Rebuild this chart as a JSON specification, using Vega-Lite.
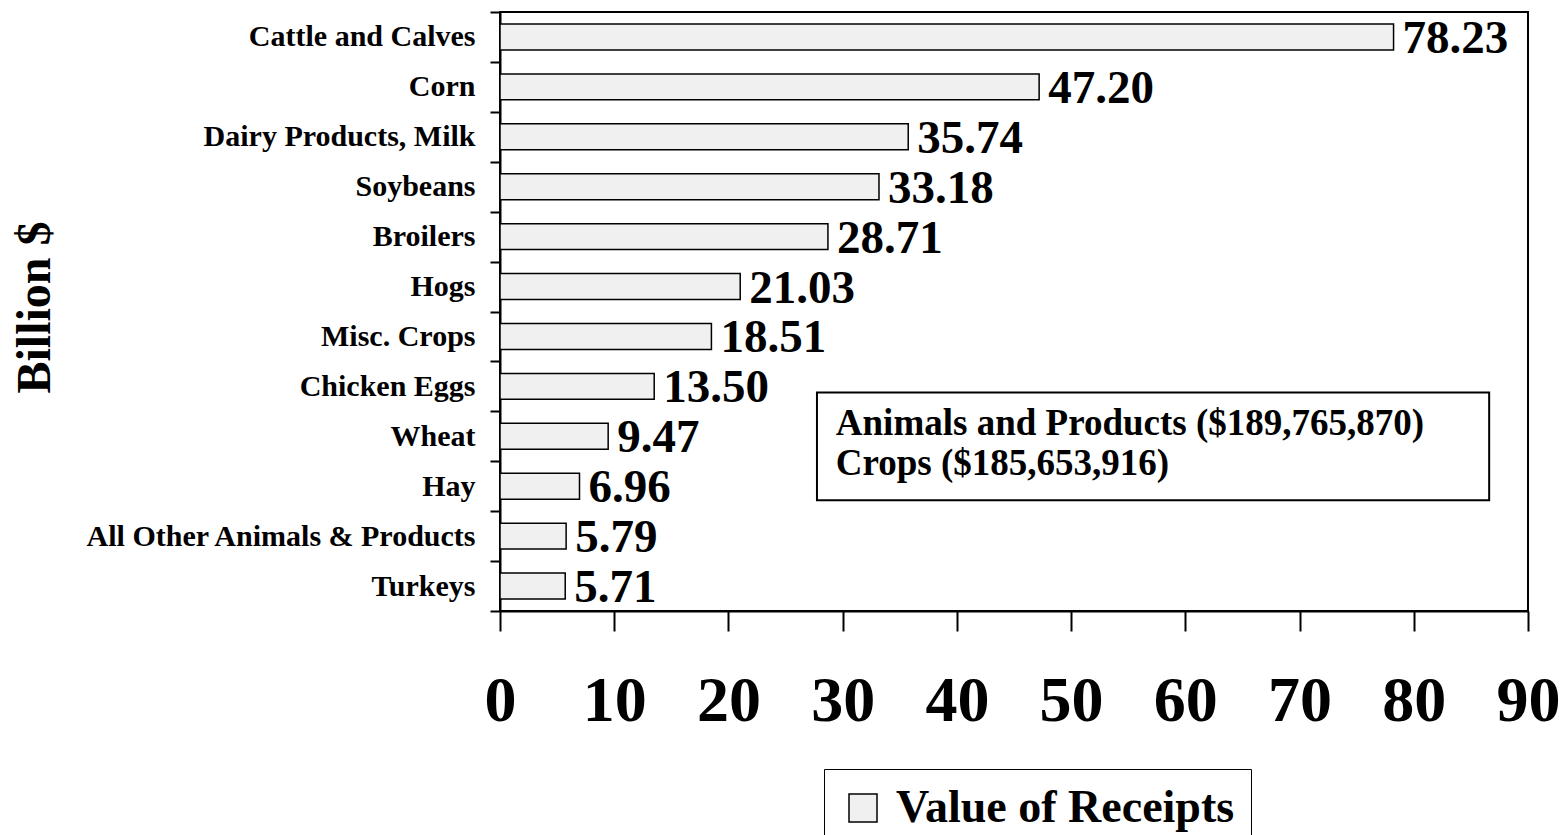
{
  "$schema": "https://vega.github.io/schema/vega-lite/v6.json",
  "autosize": "none",
  "width": 1028,
  "height": 599,
  "padding": {"left": 500, "top": 12, "right": 36, "bottom": 224},
  "background": "white",
  "config": {
    "view": {"stroke": "black", "strokeWidth": 2},
    "font": "Liberation Serif"
  },
  "datasets": {
    "receipts": [
      {"commodity": "Cattle and Calves", "value": 78.23},
      {"commodity": "Corn", "value": 47.20},
      {"commodity": "Dairy Products, Milk", "value": 35.74},
      {"commodity": "Soybeans", "value": 33.18},
      {"commodity": "Broilers", "value": 28.71},
      {"commodity": "Hogs", "value": 21.03},
      {"commodity": "Misc. Crops", "value": 18.51},
      {"commodity": "Chicken Eggs", "value": 13.50},
      {"commodity": "Wheat", "value": 9.47},
      {"commodity": "Hay", "value": 6.96},
      {"commodity": "All Other Animals & Products", "value": 5.79},
      {"commodity": "Turkeys", "value": 5.71}
    ],
    "note": [
      {"x": 29.4, "x1": 27.75, "x2": 86.6, "top": "Chicken Eggs", "bottom": "Hay", "anchor": "Wheat",
       "text": ["Animals and Products ($189,765,870)", "Crops ($185,653,916)"]}
    ]
  },
  "layer": [
    {
      "data": {"name": "receipts"},
      "mark": {"type": "bar", "stroke": "black", "strokeWidth": 1.5, "height": {"band": 0.52}},
      "encoding": {
        "y": {
          "field": "commodity", "type": "nominal",
          "scale": {"paddingInner": 0, "paddingOuter": 0,
            "domain": ["Cattle and Calves", "Corn", "Dairy Products, Milk", "Soybeans", "Broilers", "Hogs", "Misc. Crops", "Chicken Eggs", "Wheat", "Hay", "All Other Animals & Products", "Turkeys"]},
          "axis": {
            "title": "Billion $", "titleFontSize": 48, "titleFontWeight": "bold", "titleFont": "Liberation Serif",
            "titleAngle": -90, "titleX": -465, "titleY": 295, "titleBaseline": "middle", "titleAlign": "center", "titleColor": "black",
            "labelFontSize": 30, "labelFontWeight": "bold", "labelColor": "black", "labelPadding": 15, "labelLimit": 0,
            "tickSize": 10, "tickBand": "extent", "tickColor": "black", "tickWidth": 2,
            "domainColor": "black", "domainWidth": 2, "grid": false
          }
        },
        "x": {
          "field": "value", "type": "quantitative",
          "scale": {"domain": [0, 90], "nice": false},
          "axis": {
            "title": null, "values": [0, 10, 20, 30, 40, 50, 60, 70, 80, 90],
            "tickSize": 20, "tickColor": "black", "tickWidth": 2,
            "labelFontSize": 64, "labelFontWeight": "bold", "labelColor": "black", "labelPadding": 38,
            "labelFlush": false, "labelOverlap": false,
            "domainColor": "black", "domainWidth": 2, "grid": false
          }
        },
        "fill": {
          "datum": "Value of Receipts", "type": "nominal",
          "scale": {"range": ["#f0f0f0"]},
          "legend": {
            "orient": "none", "legendX": 324, "legendY": 757, "title": null,
            "labelFontSize": 46, "labelFontWeight": "bold", "labelFont": "Liberation Serif", "labelColor": "black", "labelLimit": 0,
            "symbolType": "square", "symbolSize": 784, "symbolStrokeColor": "black", "symbolStrokeWidth": 1.5,
            "strokeColor": "black", "fillColor": "white", "padding": 16, "labelOffset": 10
          }
        }
      }
    },
    {
      "data": {"name": "receipts"},
      "mark": {"type": "text", "align": "left", "baseline": "alphabetic", "dx": 9, "dy": 16, "fontSize": 47, "fontWeight": "bold", "color": "black"},
      "encoding": {
        "y": {"field": "commodity", "type": "nominal"},
        "x": {"field": "value", "type": "quantitative"},
        "text": {"field": "value", "format": ".2f"}
      }
    },
    {
      "data": {"name": "note"},
      "mark": {"type": "rect", "fill": "white", "stroke": "black", "strokeWidth": 2, "yOffset": 6, "y2Offset": 14},
      "encoding": {
        "x": {"field": "x1", "type": "quantitative"},
        "x2": {"field": "x2"},
        "y": {"field": "top", "type": "nominal", "bandPosition": 0.5},
        "y2": {"field": "bottom", "bandPosition": 0.5}
      }
    },
    {
      "data": {"name": "note"},
      "mark": {"type": "text", "align": "left", "baseline": "alphabetic", "fontSize": 37, "fontWeight": "bold", "dy": -1, "lineHeight": 40, "color": "black"},
      "encoding": {
        "x": {"field": "x", "type": "quantitative"},
        "y": {"field": "anchor", "type": "nominal"},
        "text": {"field": "text"}
      }
    }
  ]
}
